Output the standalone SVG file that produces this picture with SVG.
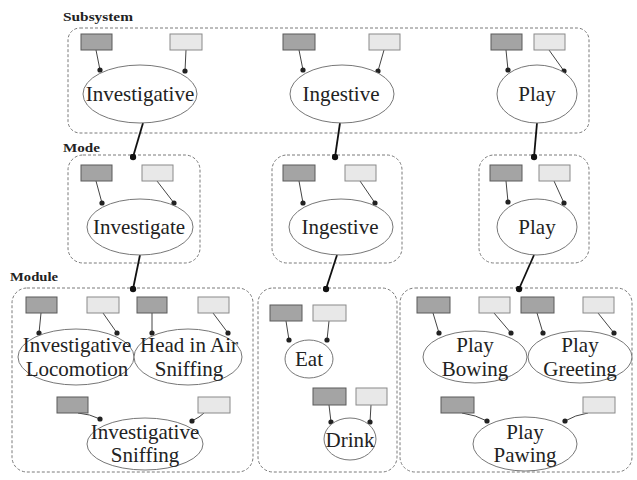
<svg xmlns="http://www.w3.org/2000/svg" width="637" height="480" viewBox="0 0 637 480">
<defs>
<style>
.box{fill:none;stroke:#7a7a7a;stroke-width:1;stroke-dasharray:3,2}
.dk{fill:#a4a4a4;stroke:#5a5a5a;stroke-width:1}
.lt{fill:#e8e8e8;stroke:#8a8a8a;stroke-width:1}
.el{fill:#fff;stroke:#777;stroke-width:1}
.t{font-family:"Liberation Serif",serif;font-size:21px;fill:#222;text-anchor:middle}
.lbl{font-family:"Liberation Serif",serif;font-size:13px;font-weight:bold;fill:#222}
.ar{fill:none;stroke:#444;stroke-width:1;marker-end:url(#dot)}
.lk{fill:none;stroke:#111;stroke-width:1.8;marker-end:url(#bdot)}
</style>
<marker id="dot" viewBox="0 0 6 6" refX="3" refY="3" markerWidth="6" markerHeight="6" markerUnits="userSpaceOnUse"><circle cx="3" cy="3" r="2.6" fill="#222"/></marker>
<marker id="bdot" viewBox="0 0 7 7" refX="3.5" refY="3.5" markerWidth="7" markerHeight="7" markerUnits="userSpaceOnUse"><circle cx="3.5" cy="3.5" r="3.2" fill="#111"/></marker>
</defs>
<rect width="637" height="480" fill="#fff"/>

<g id="labels">
<text class="lbl" x="63" y="21" textLength="70" lengthAdjust="spacingAndGlyphs">Subsystem</text>
<text class="lbl" x="63" y="152" textLength="37" lengthAdjust="spacingAndGlyphs">Mode</text>
<text class="lbl" x="10" y="281" textLength="48" lengthAdjust="spacingAndGlyphs">Module</text>
</g>

<g id="containers">
<rect id="subsystem-box" class="box" x="68" y="28" width="521" height="105" rx="12"/>
<rect id="mode-box-1" class="box" x="68" y="155" width="132" height="108" rx="15"/>
<rect id="mode-box-2" class="box" x="272" y="155" width="130" height="108" rx="15"/>
<rect id="mode-box-3" class="box" x="479" y="155" width="110" height="108" rx="15"/>
<rect id="module-box-1" class="box" x="12" y="288" width="241" height="184" rx="15"/>
<rect id="module-box-2" class="box" x="258" y="288" width="139" height="184" rx="15"/>
<rect id="module-box-3" class="box" x="400" y="288" width="232" height="184" rx="15"/>
</g>

<g id="connectors">
<!-- subsystem -->
<line class="ar" x1="96" y1="50" x2="100" y2="70"/>
<line class="ar" x1="186" y1="50" x2="185" y2="71"/>
<line class="ar" x1="299" y1="50" x2="303" y2="70"/>
<line class="ar" x1="384" y1="50" x2="378" y2="71"/>
<line class="ar" x1="506" y1="50" x2="508" y2="70"/>
<line class="ar" x1="549" y1="50" x2="564" y2="71"/>
<!-- mode -->
<line class="ar" x1="96" y1="181" x2="102" y2="203"/>
<line class="ar" x1="157" y1="181" x2="174" y2="203"/>
<line class="ar" x1="299" y1="181" x2="303" y2="203"/>
<line class="ar" x1="360" y1="181" x2="375" y2="203"/>
<line class="ar" x1="506" y1="181" x2="508" y2="202"/>
<line class="ar" x1="554" y1="181" x2="564" y2="203"/>
<!-- module 1 -->
<line class="ar" x1="41" y1="313" x2="39" y2="333"/>
<line class="ar" x1="103" y1="313" x2="117" y2="333"/>
<line class="ar" x1="152" y1="313" x2="152" y2="333"/>
<line class="ar" x1="213" y1="313" x2="228" y2="333"/>
<path class="ar" d="M78 413 Q90 414 100 419"/>
<path class="ar" d="M204 413 Q200 417 192 421"/>
<!-- module 2 -->
<line class="ar" x1="286" y1="321" x2="289" y2="340"/>
<line class="ar" x1="329" y1="321" x2="327" y2="340"/>
<line class="ar" x1="329" y1="405" x2="331" y2="422"/>
<line class="ar" x1="371" y1="405" x2="370" y2="422"/>
<!-- module 3 -->
<line class="ar" x1="433" y1="313" x2="439" y2="333"/>
<line class="ar" x1="494" y1="313" x2="511" y2="333"/>
<line class="ar" x1="537" y1="313" x2="543" y2="333"/>
<line class="ar" x1="598" y1="313" x2="614" y2="333"/>
<path class="ar" d="M462 413 Q476 415 487 421"/>
<path class="ar" d="M588 413 Q575 415 565 421"/>
<!-- level links -->
<line class="lk" x1="143" y1="123" x2="133" y2="157"/>
<line class="lk" x1="340" y1="123" x2="335" y2="157"/>
<line class="lk" x1="537" y1="123" x2="534" y2="157"/>
<line class="lk" x1="140" y1="255" x2="133" y2="289"/>
<line class="lk" x1="337" y1="255" x2="326" y2="289"/>
<line class="lk" x1="534" y1="255" x2="519" y2="289"/>
</g>

<g id="sub-investigative">
<rect class="dk" x="81" y="34" width="31" height="16"/>
<rect class="lt" x="170" y="34" width="32" height="16"/>
<ellipse class="el" cx="140" cy="94" rx="57" ry="29"/>
<text class="t" x="140" y="101">Investigative</text>
</g>
<g id="sub-ingestive">
<rect class="dk" x="283" y="34" width="32" height="16"/>
<rect class="lt" x="369" y="34" width="31" height="16"/>
<ellipse class="el" cx="342" cy="94" rx="52" ry="29"/>
<text class="t" x="341" y="101">Ingestive</text>
</g>
<g id="sub-play">
<rect class="dk" x="491" y="34" width="31" height="16"/>
<rect class="lt" x="534" y="34" width="31" height="16"/>
<ellipse class="el" cx="537" cy="94" rx="40" ry="29"/>
<text class="t" x="537" y="101">Play</text>
</g>

<g id="mode-investigate">
<rect class="dk" x="81" y="165" width="31" height="16"/>
<rect class="lt" x="142" y="165" width="31" height="16"/>
<ellipse class="el" cx="140" cy="227" rx="53" ry="28"/>
<text class="t" x="139" y="234">Investigate</text>
</g>
<g id="mode-ingestive">
<rect class="dk" x="283" y="165" width="32" height="16"/>
<rect class="lt" x="345" y="165" width="31" height="16"/>
<ellipse class="el" cx="341" cy="227" rx="52" ry="28"/>
<text class="t" x="340" y="234">Ingestive</text>
</g>
<g id="mode-play">
<rect class="dk" x="490" y="165" width="32" height="16"/>
<rect class="lt" x="539" y="165" width="31" height="16"/>
<ellipse class="el" cx="537" cy="227" rx="40" ry="28"/>
<text class="t" x="537" y="234">Play</text>
</g>

<g id="mod-investigative-locomotion">
<rect class="dk" x="26" y="297" width="31" height="16"/>
<rect class="lt" x="87" y="297" width="32" height="16"/>
<ellipse class="el" cx="76" cy="357" rx="58" ry="28"/>
<text class="t" x="77" y="352">Investigative</text>
<text class="t" x="77" y="376">Locomotion</text>
</g>
<g id="mod-head-in-air-sniffing">
<rect class="dk" x="137" y="297" width="30" height="16"/>
<rect class="lt" x="198" y="297" width="31" height="16"/>
<ellipse class="el" cx="188" cy="357" rx="54" ry="28"/>
<text class="t" x="189" y="352">Head in Air</text>
<text class="t" x="189" y="376">Sniffing</text>
</g>
<g id="mod-investigative-sniffing">
<rect class="dk" x="57" y="397" width="31" height="16"/>
<rect class="lt" x="198" y="397" width="32" height="16"/>
<ellipse class="el" cx="145" cy="444" rx="58" ry="26"/>
<text class="t" x="145" y="439">Investigative</text>
<text class="t" x="145" y="462">Sniffing</text>
</g>

<g id="mod-eat">
<rect class="dk" x="270" y="305" width="32" height="16"/>
<rect class="lt" x="313" y="305" width="33" height="16"/>
<ellipse class="el" cx="309" cy="359" rx="24" ry="19"/>
<text class="t" x="309" y="366">Eat</text>
</g>
<g id="mod-drink">
<rect class="dk" x="313" y="388" width="33" height="17"/>
<rect class="lt" x="356" y="388" width="31" height="17"/>
<ellipse class="el" cx="350" cy="439" rx="26" ry="21"/>
<text class="t" x="350" y="447">Drink</text>
</g>

<g id="mod-play-bowing">
<rect class="dk" x="417" y="297" width="33" height="16"/>
<rect class="lt" x="479" y="297" width="31" height="16"/>
<ellipse class="el" cx="475" cy="357" rx="52" ry="26"/>
<text class="t" x="475" y="352">Play</text>
<text class="t" x="475" y="376">Bowing</text>
</g>
<g id="mod-play-greeting">
<rect class="dk" x="521" y="297" width="33" height="16"/>
<rect class="lt" x="583" y="297" width="31" height="16"/>
<ellipse class="el" cx="580" cy="357" rx="52" ry="26"/>
<text class="t" x="580" y="352">Play</text>
<text class="t" x="580" y="376">Greeting</text>
</g>
<g id="mod-play-pawing">
<rect class="dk" x="441" y="397" width="33" height="16"/>
<rect class="lt" x="583" y="397" width="32" height="16"/>
<ellipse class="el" cx="525" cy="444" rx="52" ry="27"/>
<text class="t" x="525" y="439">Play</text>
<text class="t" x="525" y="462">Pawing</text>
</g>
</svg>
